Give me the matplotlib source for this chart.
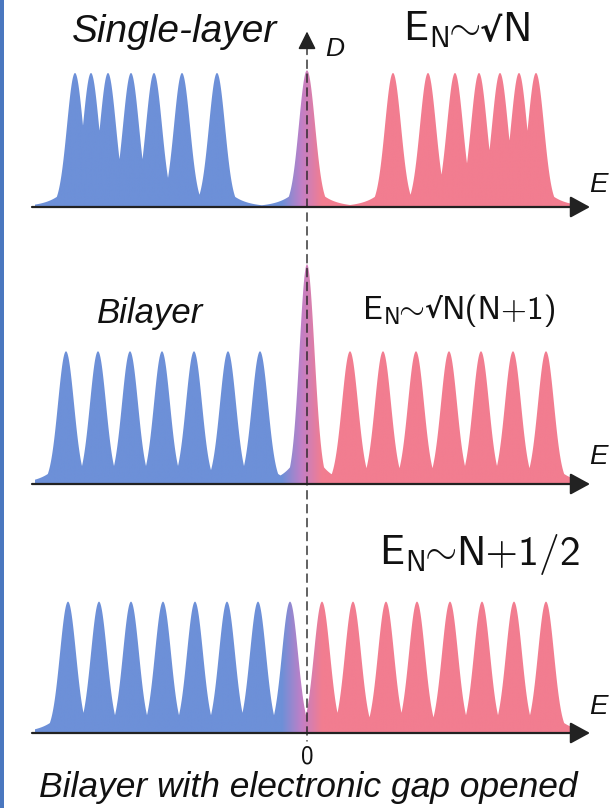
# Landau level density of states: single-layer, bilayer, gapped bilayer graphene
# schematic redrawn with matplotlib

import numpy as np
import matplotlib.pyplot as plt
from matplotlib.colors import LinearSegmentedColormap
from matplotlib.patches import ConnectionPatch, Rectangle
from matplotlib.offsetbox import TextArea, HPacker, AnnotationBbox

plt.rcParams['mathtext.fontset'] = 'cm'

# ---- data: Landau level positions (arb. energy units, 0 = neutrality point) ----

single_holes = [-232, -216, -199, -176, -153, -125, -90]
single_zero = [0]
single_elec = [86, 121, 148, 172, 193, 212, 229]

bi_holes = [-241, -209, -177, -145, -113, -79, -47]
bi_zero = [0]
bi_elec = [43, 76, 109, 142, 174, 206, 239]

gap_holes = [-239, -208, -176, -144, -112, -80, -49, -17]
gap_elec = [15, 46, 79, 110, 143, 175, 207, 239]

# peak heights (density of states, arb. units)
single_h = 1.0
single_zero_h = 1.02
bi_h = 0.99
bi_zero_h = 1.64
gap_h = 0.98

# level broadening
width = 8.0
width_zero_bi = 7.5

titles = ["Single-layer", "Bilayer", "Bilayer with electronic gap opened"]
# formula pieces: (E_N ~ part, root sign, rest)
formulas = [(r'$\mathsf{E}_\mathsf{N}\!\!\sim\!\!\!$', "√", "N"),
            (r'$\mathsf{E}_\mathsf{N}\!\!\sim\!\!\!$', "√", "N(N+1)"),
            (r'$\mathsf{E}_\mathsf{N}\!\!\sim\!\!\!$', "", "N+1/2")]

blue = "#6d90d8"
purple = "#c27fc6"
pink = "#f27d90"
axis_col = "#222222"
text_col = "#111111"


def density(x, levels):
    # each level is a broadened peak with a weak exponential skirt,
    # overlapping peaks -> take the envelope
    d = np.zeros_like(x)
    for pos, h, w in levels:
        core = np.exp(-0.5 * ((x - pos) / w) ** 2)
        skirt = 0.25 * np.exp(-np.abs(x - pos) / (1.9 * w))
        d = np.maximum(d, h * np.maximum(core, skirt))
    return d


def levels_of(positions, h, w):
    return [(p, h, w) for p in positions]


panels = [
    levels_of(single_holes, single_h, width) + levels_of(single_zero, single_zero_h, width)
    + levels_of(single_elec, single_h, width),
    levels_of(bi_holes, bi_h, width) + levels_of(bi_zero, bi_zero_h, width_zero_bi)
    + levels_of(bi_elec, bi_h, width),
    levels_of(gap_holes, gap_h, width) + levels_of(gap_elec, gap_h, width),
]

fig = plt.figure(figsize=(6.09, 8.08), dpi=100)
fig.patches.append(Rectangle((0, 0), 3.5 / 609, 1, transform=fig.transFigure,
                             facecolor="#4a77bf", edgecolor="none"))

cmap = LinearSegmentedColormap.from_list("bp", [blue, purple, pink])
x = np.linspace(-272, 276, 4000)
t = np.clip((x + 25) / 40.0, 0, 1)

bottoms = [1 - 207 / 808, 1 - 484 / 808, 1 - 733 / 808]
ymax = 240 / 134
axes = []
for i, lv in enumerate(panels):
    ax = fig.add_axes([0, bottoms[i], 1, 240 / 808])
    ax.set_xlim(-307, 302)
    ax.set_ylim(0, ymax)
    ax.axis("off")
    y = density(x, lv)
    poly = ax.fill_between(x, 0, y, color="none", lw=0)
    img = ax.imshow(t[np.newaxis, :], cmap=cmap, aspect="auto",
                    extent=[x[0], x[-1], 0, ymax], origin="lower", zorder=2)
    img.set_clip_path(poly.get_paths()[0], transform=ax.transData)
    # energy axis with arrow
    ax.annotate("", xy=(283, 0), xytext=(-275, 0), zorder=3,
                arrowprops=dict(arrowstyle="-|>,head_length=0.55,head_width=0.3",
                                mutation_scale=22, color=axis_col, lw=1.6,
                                shrinkA=0, shrinkB=0))
    axes.append(ax)

# D axis arrow on top panel
axes[0].annotate("", xy=(0, 1.31), xytext=(0, 1.2), zorder=3,
                 arrowprops=dict(arrowstyle="-|>,head_length=0.6,head_width=0.3",
                                 mutation_scale=18, color=axis_col, lw=1.2,
                                 shrinkA=0, shrinkB=0))

# dashed line at E = 0 through all panels
con = ConnectionPatch(xyA=(0, 1.2), coordsA=axes[0].transData,
                      xyB=(0, -8 / 134), coordsB=axes[2].transData,
                      color=axis_col, lw=1.0, linestyle=(0, (6, 4)), zorder=1)
fig.add_artist(con)

italic = dict(family="Liberation Sans", style="italic", color=text_col)

# panel titles
fig.text(175 / 609, 1 - 42 / 808, titles[0], ha="center", va="baseline", fontsize=28, **italic)
fig.text(150 / 609, 1 - 323 / 808, titles[1], ha="center", va="baseline", fontsize=25, **italic)
fig.text(308 / 609, 1 - 797 / 808, titles[2], ha="center", va="baseline", fontsize=25.5, **italic)


# level formulas, built from pieces so the root sign stays small
def formula(pieces, size, xy):
    head, root, rest = pieces
    kids = [TextArea(head, textprops=dict(fontsize=size, color=text_col))]
    if root:
        kids.append(TextArea(root, textprops=dict(fontsize=size * 0.8, color=text_col,
                                                  family="DejaVu Sans", fontweight="bold")))
    kids.append(TextArea(rest, textprops=dict(fontsize=size, color=text_col, family="cmss10")))
    box = HPacker(children=kids, align="baseline", pad=0, sep=0)
    ab = AnnotationBbox(box, xy, xycoords="figure fraction", box_alignment=(0, 0),
                        frameon=False, pad=0)
    fig.add_artist(ab)


formula(formulas[0], 30, (403 / 609, 1 - 50 / 808))
formula(formulas[1], 24, (362 / 609, 1 - 327 / 808))
formula(formulas[2], 30, (379 / 609, 1 - 575 / 808))

# axis labels
fig.text(325 / 609, 1 - 56 / 808, "D", ha="left", va="baseline", fontsize=19, **italic)
for yb in [192, 464, 714]:
    fig.text(589 / 609, 1 - yb / 808, "E", ha="left", va="baseline", fontsize=20, **italic)
fig.text(307 / 609, 1 - 763 / 808, "0", ha="center", va="baseline", fontsize=18,
         family="cmss10", color=text_col)

fig.savefig("out.png", dpi=100)
